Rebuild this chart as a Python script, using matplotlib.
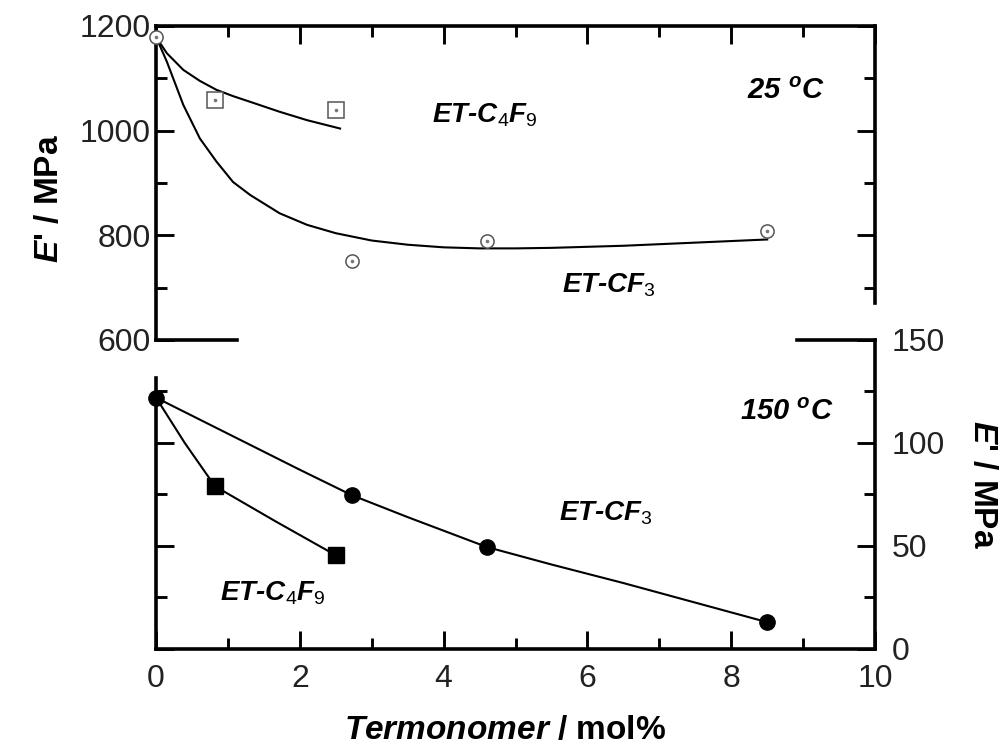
import matplotlib
matplotlib.use("Agg")
import matplotlib.pyplot as plt
from matplotlib.ticker import FixedLocator

plt.rcParams["font.family"] = ["Liberation Sans", "DejaVu Sans"]
plt.rcParams["mathtext.fontset"] = "custom"
plt.rcParams["mathtext.it"] = "Liberation Sans:italic:bold"
plt.rcParams["mathtext.rm"] = "Liberation Sans"
plt.rcParams["mathtext.bf"] = "Liberation Sans:bold"

# measured storage modulus, E' / MPa
x_cf3 = [0, 2.72, 4.6, 8.5]
x_c4f9 = [0.82, 2.5]
e25_cf3 = [1179, 750, 790, 809]
e25_c4f9 = [1058, 1039]
e150_cf3 = [122, 74.7, 49.5, 13]
e150_c4f9 = [79, 45.5]

# fitted guide curves
fit25_cf3_x = [0, 0.15, 0.38, 0.61, 0.84, 1.07, 1.31, 1.72, 2.1, 2.5, 3, 3.5,
               4, 4.5, 5, 5.5, 6, 6.5, 7, 7.5, 8, 8.5]
fit25_cf3_y = [1179, 1132, 1049, 985, 941, 902, 877, 842, 820, 804, 790, 782,
               777, 775, 775, 776, 778, 780, 783, 786, 789, 792]
fit25_c4f9_x = [0, 0.15, 0.38, 0.61, 0.84, 1.07, 1.31, 1.72, 2.1, 2.56]
fit25_c4f9_y = [1179, 1148, 1116, 1095, 1078, 1066, 1055, 1036, 1020, 1004]
fit150_cf3_x = [0, 1, 2, 2.72, 3.5, 4.6, 5.5, 6.5, 7.5, 8.5]
fit150_cf3_y = [122, 104.5, 87, 74.7, 64, 49.5, 41, 32, 22.5, 13]
fit150_c4f9_x = [0, 0.4, 0.82, 1.66, 2.5]
fit150_c4f9_y = [122, 100, 79, 62, 45.5]

SPINE_W = 2.6
LINE_W = 1.5
FS_TICK = 23
FS_LABEL = 24
FS_NOTE = 20
FS_TEMP = 21

fig = plt.figure(figsize=(10.02, 7.48), dpi=100)
ax_top = fig.add_axes([0.1557, 0.5455, 0.7176, 0.4198])
ax_bot = fig.add_axes([0.1557, 0.1324, 0.7176, 0.4131])

for ax in (ax_top, ax_bot):
    ax.set_xlim(0, 10)
    ax.patch.set_alpha(0)
    for sp in ax.spines.values():
        sp.set_linewidth(SPINE_W)
    ax.tick_params(which="both", direction="in", width=SPINE_W * 0.8,
                   labelsize=FS_TICK, labelcolor="#222222")
    ax.tick_params(which="major", length=13)
    ax.tick_params(which="minor", length=8)
    ax.xaxis.set_major_locator(FixedLocator([0, 2, 4, 6, 8, 10]))
    ax.xaxis.set_minor_locator(FixedLocator([1, 3, 5, 7, 9]))

# 25 C panel
ax_top.set_ylim(600, 1200)
ax_top.spines["right"].set_bounds(670, 1200)
ax_top.spines["bottom"].set_bounds(0, 1.13)
ax_top.yaxis.set_major_locator(FixedLocator([600, 800, 1000, 1200]))
ax_top.yaxis.set_minor_locator(FixedLocator([700, 900, 1100]))
ax_top.tick_params(which="both", top=True, bottom=False, labelbottom=False,
                   left=True, right=True, labelleft=True, labelright=False)
ax_top.tick_params(axis="y", pad=4)

ax_top.plot(fit25_cf3_x, fit25_cf3_y, color="black", lw=LINE_W, zorder=2)
ax_top.plot(fit25_c4f9_x, fit25_c4f9_y, color="black", lw=LINE_W, zorder=2)
ax_top.plot(x_cf3, e25_cf3, ls="none", marker="o", ms=9.5, mfc="white",
            mec="#555555", mew=1.1, zorder=3, clip_on=False)
ax_top.plot(x_c4f9, e25_c4f9, ls="none", marker="s", ms=11.5, mfc="white",
            mec="#555555", mew=1.1, zorder=3, clip_on=False)
ax_top.plot(x_cf3 + x_c4f9, e25_cf3 + e25_c4f9, ls="none", marker="o", ms=1.6,
            color="#777777", zorder=4, clip_on=False)

ax_top.set_ylabel("$E$' / MPa", fontsize=FS_LABEL, fontweight="bold")
ax_top.yaxis.set_label_coords(-0.127, 0.45)

ax_top.text(4.57, 1030, "ET-C$_4$F$_9$", fontsize=FS_NOTE, fontweight="bold",
            fontstyle="italic", ha="center", va="center")
ax_top.text(6.3, 705, "ET-CF$_3$", fontsize=FS_NOTE, fontweight="bold",
            fontstyle="italic", ha="center", va="center")
ax_top.text(9.3, 1075, "25 $^o$C", fontsize=FS_TEMP, fontweight="bold",
            fontstyle="italic", ha="right", va="center")

# 150 C panel
ax_bot.set_ylim(0, 150)
ax_bot.spines["left"].set_bounds(0, 131.5)
ax_bot.spines["top"].set_bounds(8.92, 10)
ax_bot.yaxis.set_major_locator(FixedLocator([0, 50, 100, 150]))
ax_bot.yaxis.set_minor_locator(FixedLocator([25, 75, 125]))
ax_bot.tick_params(which="both", top=False, bottom=True, labelbottom=True,
                   left=True, right=True, labelleft=False, labelright=True)
ax_bot.tick_params(axis="x", pad=11)
ax_bot.tick_params(axis="y", pad=12)

ax_bot.plot(fit150_cf3_x, fit150_cf3_y, color="black", lw=LINE_W, zorder=2)
ax_bot.plot(fit150_c4f9_x, fit150_c4f9_y, color="black", lw=LINE_W, zorder=2)
ax_bot.plot(x_cf3, e150_cf3, ls="none", marker="o", ms=11, color="black",
            zorder=3, clip_on=False)
ax_bot.plot(x_c4f9, e150_c4f9, ls="none", marker="s", ms=11.5, color="black",
            zorder=3, clip_on=False)

# right-hand label sits next to the 150 C scale
fig.text(0.981, 0.352, "$E$' / MPa", fontsize=FS_LABEL, fontweight="bold",
         rotation=270, ha="center", va="center")
ax_bot.set_xlabel(r"$Termonomer$ / mol%", fontsize=FS_LABEL, fontweight="bold")
ax_bot.xaxis.set_label_coords(0.485, -0.215)

ax_bot.text(6.26, 66, "ET-CF$_3$", fontsize=FS_NOTE, fontweight="bold",
            fontstyle="italic", ha="center", va="center")
ax_bot.text(1.63, 27, "ET-C$_4$F$_9$", fontsize=FS_NOTE, fontweight="bold",
            fontstyle="italic", ha="center", va="center")
ax_bot.text(9.43, 115, "150 $^o$C", fontsize=FS_TEMP, fontweight="bold",
            fontstyle="italic", ha="right", va="center")

fig.savefig("out.png", dpi=100)
